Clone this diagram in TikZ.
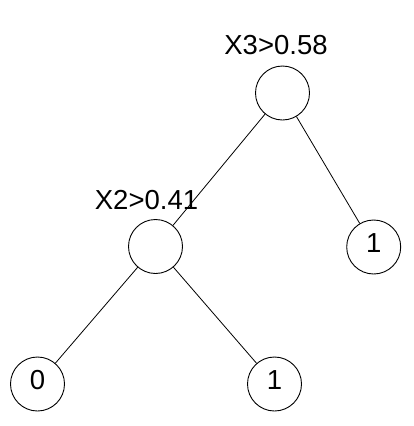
\documentclass[tikz,border=0pt]{standalone}
\usepackage{fontspec}
\setmainfont{Liberation Sans}
\begin{document}
\begin{tikzpicture}[x=1pt,y=-1pt,
  tnode/.style={circle,draw=black,line width=0.9pt,inner sep=0pt,minimum size=54pt,
    font=\fontsize{27.5}{32}\selectfont,text height=20pt,text depth=10pt},
  tlabel/.style={anchor=base,inner sep=0pt,font=\fontsize{27.5}{32}\selectfont},
  edge/.style={draw=black,line width=0.8pt}]
\useasboundingbox (0,0) rectangle (414,426);
\fill[white] (0,0) rectangle (414,426);
\node[tnode] (root) at (282.5,93) {};
\node[tnode] (x2) at (155.5,246.5) {};
\node[tnode] (r1) at (373.7,247) {1};
\node[tnode] (l0) at (37.5,384) {0};
\node[tnode] (l1) at (274.5,384) {1};
\node[tlabel] (lab3) at (276,54.5) {X3>0.58};
\node[tlabel] (lab2) at (146.5,209) {X2>0.41};
\draw[edge] (root) -- (x2);
\draw[edge] (root) -- (r1);
\draw[edge] (x2) -- (l0);
\draw[edge] (x2) -- (l1);
\end{tikzpicture}
\end{document}
